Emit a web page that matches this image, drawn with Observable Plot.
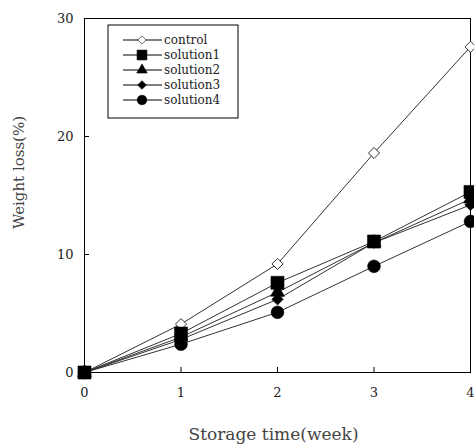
<!DOCTYPE html>
<html><head><meta charset="utf-8">
<script src="https://cdn.jsdelivr.net/npm/d3@7"></script>
<script src="https://cdn.jsdelivr.net/npm/@observablehq/plot@0.6"></script>
<style>body{margin:0;background:#fff}#chart{width:474px;height:446px}</style>
</head><body><div id="chart"></div>
<script>
const weeks = [0, 1, 2, 3, 4];
const seriesNames = ["control", "solution1", "solution2", "solution3", "solution4"];
const control   = [0, 4.1, 9.2, 18.6, 27.6];
const solution1 = [0, 3.3, 7.6, 11.1, 15.3];
const solution2 = [0, 3.0, 6.8, 11.0, 14.7];
const solution3 = [0, 2.8, 6.2, 11.0, 14.2];
const solution4 = [0, 2.4, 5.1, 9.0, 12.8];
const xTicks = [0, 1, 2, 3, 4];
const yTicks = [0, 10, 20, 30];
const xLabel = "Storage time(week)";
const yLabel = "Weight loss(%)";

const values = [control, solution1, solution2, solution3, solution4];
const symbols = ["diamond2", "square", "triangle", "diamond2", "circle"];
const fills = ["white", "black", "black", "black", "black"];
const radii = [5, 7.4, 5.2, 5.2, 6.4];

const rows = [];
seriesNames.forEach((s, i) => weeks.forEach((w, j) => rows.push({series: s, week: w, value: values[i][j], idx: i})));
const drawOrder = [0, 2, 3, 4, 1];

const font = "DejaVu Serif, serif";
const marks = [
  Plot.frame({stroke: "black", strokeWidth: 1}),
  Plot.ruleY(yTicks, {y: d => d, x1: 0, x2: 0, insetRight: -5, stroke: "black"}),
  Plot.ruleX(xTicks, {x: d => d, y1: 0, y2: 0, insetTop: -5, stroke: "black"}),
  Plot.axisX(xTicks, {tickSize: 0, tickPadding: 15, fontSize: 13, label: null, fill: "#222"}),
  Plot.axisY(yTicks, {tickSize: 0, tickPadding: 11, fontSize: 13, label: null, fill: "#222"}),
  Plot.line(rows, {x: "week", y: "value", z: "series", stroke: "#333", strokeWidth: 1})
];
for (const i of drawOrder) {
  marks.push(Plot.dot(rows.filter(d => d.idx === i), {
    x: "week", y: "value", symbol: () => symbols[i], r: radii[i],
    fill: fills[i], stroke: "black", strokeWidth: i === 0 ? 0.8 : 0.5
  }));
}
marks.push(Plot.text([xLabel], {frameAnchor: "bottom", lineAnchor: "middle", dx: -4, dy: 62, fontSize: 17, fill: "#444", fontFamily: font, letterSpacing: 0.6}));
marks.push(Plot.text([yLabel], {frameAnchor: "left", textAnchor: "middle", lineAnchor: "middle", dx: -65, dy: -23, rotate: -90, fontSize: 15, fill: "#444", fontFamily: font, letterSpacing: 1.5}));

const chart = Plot.plot({
  width: 474, height: 446,
  marginLeft: 84, marginRight: 4, marginTop: 18, marginBottom: 74,
  x: {domain: [0, 4]},
  y: {domain: [0, 30]},
  symbol: {type: "identity"},
  style: {fontFamily: font, background: "white", overflow: "visible"},
  marks
});
document.getElementById("chart").append(chart);

// legend
const svg = d3.select(chart);
const g = svg.append("g").attr("text-anchor", "start");
const lx = 108, ly = 25, lw = 130, lh = 93;
g.append("rect").attr("x", lx).attr("y", ly).attr("width", lw).attr("height", lh)
  .attr("fill", "white").attr("stroke", "black").attr("stroke-width", 1);
const typeMap = {diamond2: d3.symbolDiamond2, square: d3.symbolSquare, triangle: d3.symbolTriangle, circle: d3.symbolCircle};
seriesNames.forEach((s, i) => {
  const y = ly + 15 + i * 15;
  g.append("line").attr("x1", lx + 15).attr("x2", lx + 54).attr("y1", y).attr("y2", y).attr("stroke", "black");
  const r = radii[i] * 0.75;
  g.append("path").attr("transform", `translate(${lx + 34},${y})`)
    .attr("d", d3.symbol(typeMap[symbols[i]], Math.PI * r * r)())
    .attr("fill", fills[i]).attr("stroke", "black").attr("stroke-width", 0.6);
  g.append("text").attr("x", lx + 56).attr("y", y).attr("dy", "0.35em")
    .attr("text-anchor", "start")
    .attr("font-size", 12).attr("font-family", font).attr("fill", "#222").text(s);
});
</script></body></html>
